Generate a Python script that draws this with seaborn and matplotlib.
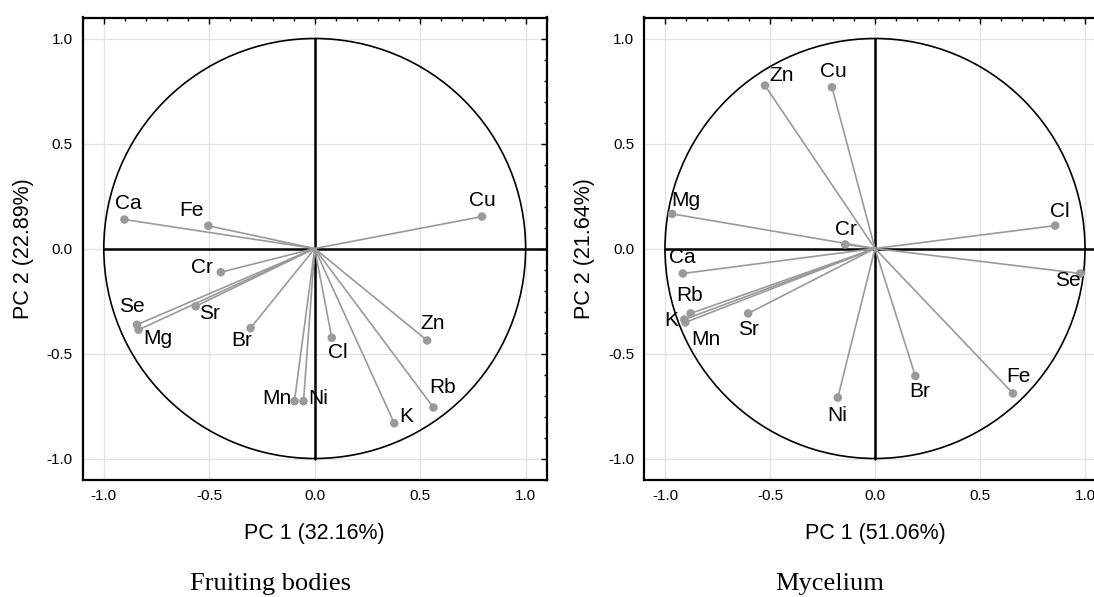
import numpy as np
import pandas as pd
import matplotlib
matplotlib.use("Agg")
import matplotlib.pyplot as plt
import seaborn as sns
from matplotlib.ticker import MultipleLocator

# --- loadings ---
fb_elements = ["Ca", "Fe", "Cu", "Cr", "Se", "Mg", "Sr", "Br", "Cl", "Zn", "Mn", "Ni", "K", "Rb"]
fb_pc1 = [-0.902, -0.504, 0.793, -0.445, -0.843, -0.835, -0.564, -0.304, 0.081, 0.533, -0.096, -0.053, 0.377, 0.563]
fb_pc2 = [0.138, 0.108, 0.152, -0.113, -0.363, -0.387, -0.275, -0.379, -0.425, -0.438, -0.727, -0.727, -0.832, -0.757]

my_elements = ["Zn", "Cu", "Mg", "Cr", "Cl", "Ca", "Se", "Rb", "K", "Mn", "Sr", "Ni", "Br", "Fe"]
my_pc1 = [-0.524, -0.205, -0.966, -0.142, 0.858, -0.915, 0.978, -0.878, -0.908, -0.903, -0.604, -0.177, 0.192, 0.657]
my_pc2 = [0.776, 0.768, 0.165, 0.019, 0.109, -0.119, -0.119, -0.309, -0.338, -0.352, -0.309, -0.710, -0.607, -0.690]

fb_axis_labels = ["PC 1 (32.16%)", "PC 2 (22.89%)"]
my_axis_labels = ["PC 1 (51.06%)", "PC 2 (21.64%)"]
captions = ["Fruiting bodies", "Mycelium"]

# label offsets in pixels (dx, dy) from each point
fb_offsets = [(4, 16), (-17, 15), (0, 16), (-19, 5), (-5, 18), (19, -9), (14, -7),
              (-9, -12), (6, -15), (6, 17), (-18, 3), (15, 3), (12, 7), (9, 20)]
my_offsets = [(17, 10), (1, 16), (14, 13), (1, 15), (5, 14), (-1, 16), (-13, -7),
              (-1, 18), (-13, -1), (21, -17), (0, -16), (-1, -18), (4, -16), (5, 17)]

sns.set_style("white")
plt.rcParams["font.family"] = ["Liberation Sans", "DejaVu Sans"]
plt.rcParams["text.color"] = "black"
plt.rcParams["axes.labelcolor"] = "black"

fig = plt.figure(figsize=(10.94, 5.97), dpi=100)
ax1 = fig.add_axes([82.7 / 1094, 117.5 / 597, 464 / 1094, 462 / 597])
ax2 = fig.add_axes([644 / 1094, 117.5 / 597, 462 / 1094, 462 / 597])

grey = "#9a9a9a"


def draw_panel(ax, names, pc1, pc2, offsets, labels):
    df = pd.DataFrame({"element": names, "pc1": pc1, "pc2": pc2})
    ax.set_xlim(-1.1, 1.1)
    ax.set_ylim(-1.1, 1.1)
    ax.xaxis.set_major_locator(MultipleLocator(0.5))
    ax.yaxis.set_major_locator(MultipleLocator(0.5))
    ax.xaxis.set_minor_locator(MultipleLocator(0.1))
    ax.yaxis.set_minor_locator(MultipleLocator(0.1))
    ax.grid(True, which="major", color="#e4e4e4", lw=1.0, zorder=0)
    ax.set_axisbelow(True)
    ax.tick_params(which="both", direction="in", top=True, right=True,
                   colors="black", labelsize=11, width=1.0)
    ax.tick_params(which="major", length=4, pad=7)
    ax.tick_params(which="minor", length=2.5)
    ax.set_xticks([-1.0, -0.5, 0.0, 0.5, 1.0])
    ax.set_xticklabels(["-1.0", "-0.5", "0.0", "0.5", "1.0"])
    ax.set_yticks([-1.0, -0.5, 0.0, 0.5, 1.0])
    ax.set_yticklabels(["-1.0", "-0.5", "0.0", "0.5", "1.0"])
    for s in ax.spines.values():
        s.set_color("black")
        s.set_linewidth(1.6)

    # unit circle and axes through origin
    ax.add_patch(plt.Circle((0, 0), 1.0, fill=False, color="black", lw=1.2, zorder=2))
    ax.plot([-1.0, 1.1], [0, 0], color="black", lw=1.8, zorder=2)
    ax.plot([0, 0], [-1.0, 1.0], color="black", lw=1.8, zorder=2)

    for _, r in df.iterrows():
        ax.plot([0, r.pc1], [0, r.pc2], color=grey, lw=1.2, zorder=3)
    sns.scatterplot(data=df, x="pc1", y="pc2", ax=ax, color=grey, s=38,
                    edgecolor="none", zorder=4, legend=False)
    for (_, r), (dx, dy) in zip(df.iterrows(), offsets):
        ax.annotate(r.element, (r.pc1, r.pc2), xytext=(dx, dy),
                    textcoords="offset pixels", ha="center", va="center",
                    fontsize=15, color="black", zorder=5)

    ax.set_xlabel(labels[0], fontsize=15.5, color="black")
    ax.set_ylabel(labels[1], fontsize=15.5, color="black")
    ax.xaxis.set_label_coords(0.5, -0.095)
    ax.yaxis.set_label_coords(-0.105, 0.5)


draw_panel(ax1, fb_elements, fb_pc1, fb_pc2, fb_offsets, fb_axis_labels)
draw_panel(ax2, my_elements, my_pc1, my_pc2, my_offsets, my_axis_labels)

fig.text(270 / 1094, 1 - 584 / 597, captions[0], ha="center", va="center",
         fontsize=19, family=["Liberation Serif", "DejaVu Serif"])
fig.text(830 / 1094, 1 - 584 / 597, captions[1], ha="center", va="center",
         fontsize=19, family=["Liberation Serif", "DejaVu Serif"])

fig.savefig("out.png", dpi=100)
